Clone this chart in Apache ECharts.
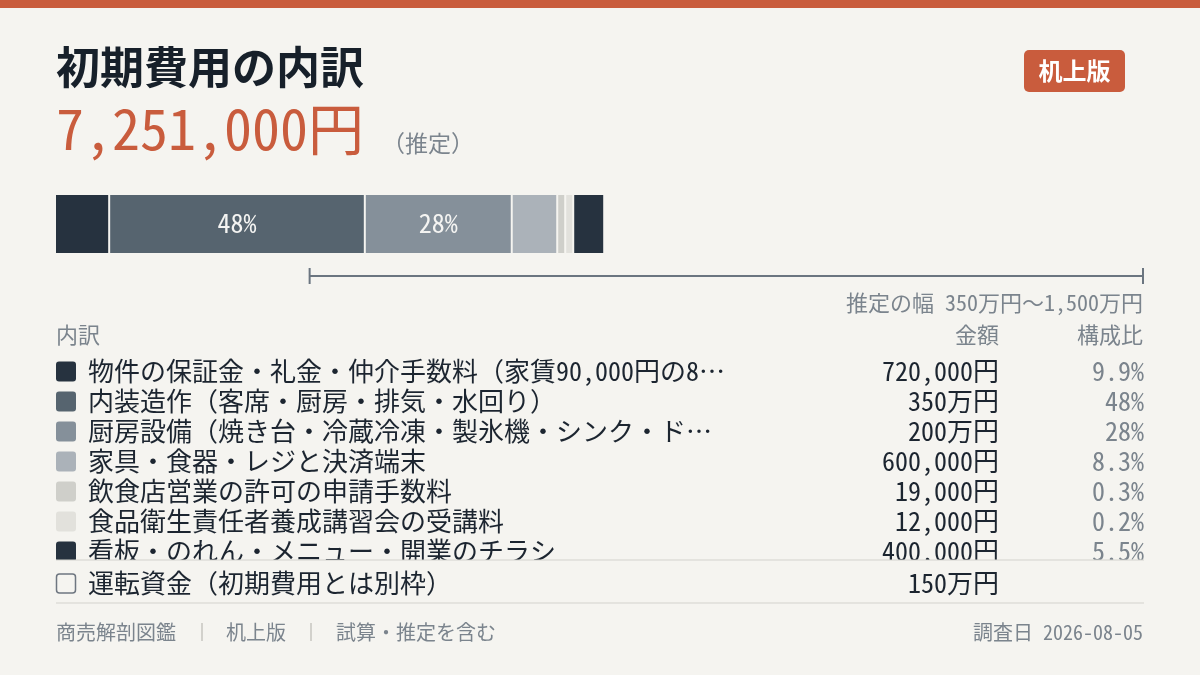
<!DOCTYPE html>
<html><head><meta charset="utf-8">
<script src="https://cdn.jsdelivr.net/npm/echarts@6/dist/echarts.min.js"></script>
<style>html,body{margin:0;padding:0;background:#F5F4F0;}#c{width:1200px;height:675px;}</style>
</head><body><div id="c"></div>
<script>
// ---- data ----
const categories = [
  '物件の保証金・礼金・仲介手数料（家賃90,000円の8…',
  '内装造作（客席・厨房・排気・水回り）',
  '厨房設備（焼き台・冷蔵冷凍・製氷機・シンク・ド…',
  '家具・食器・レジと決済端末',
  '飲食店営業の許可の申請手数料',
  '食品衛生責任者養成講習会の受講料',
  '看板・のれん・メニュー・開業のチラシ'
];
const values = [720000, 3500000, 2000000, 600000, 19000, 12000, 400000];
const extraLabel = '運転資金（初期費用とは別枠）';
const extraValue = 1500000;
const rangeMin = 3500000;
const rangeMax = 15000000;
const axisMax = 15000000;
const titleText = '初期費用の内訳';
const badgeText = '机上版';
const footerItems = ['商売解剖図鑑', '机上版', '試算・推定を含む'];
const surveyDate = '2026-08-05';

// ---- style ----
const palette = ['#26323F', '#56646F', '#85909A', '#ABB2B9', '#CFCFCA', '#E2E1DC', '#26323F'];
const FONT = "'Noto Sans Mono CJK JP','Noto Sans CJK JP','Noto Sans',sans-serif";
const BG = '#F5F4F0', ACCENT = '#C95C3D', DARK = '#1C2530', GRAY = '#7B848D', LINE = '#D3D2CD';

const total = values.reduce((a, b) => a + b, 0);
const fmtYen = v => v >= 1000000 ? (v / 10000).toLocaleString('en-US') + '万円' : v.toLocaleString('en-US') + '円';
const fmtMan = v => (v / 10000).toLocaleString('en-US') + '万円';
const fmtPct = v => { const p = v / total * 100; return p >= 10 ? Math.round(p) + '%' : p.toFixed(1) + '%'; };

function txt(text, x, y, size, fill, align, weight, z) {
  return { type: 'text', z: z || 10, style: { text: text, x: x, y: y, fill: fill, fontSize: size, fontFamily: FONT,
    fontWeight: weight || 'normal', align: align || 'left', textAlign: align || 'left', verticalAlign: 'middle', textVerticalAlign: 'middle' } };
}

const elements = [];
elements.push({ type: 'rect', z: 1, shape: { x: 0, y: 0, width: 1200, height: 8 }, style: { fill: ACCENT } });
elements.push(txt(titleText, 56, 67, 44, '#17202A', 'left', 'bold'));
elements.push(txt(total.toLocaleString('en-US') + '円', 56, 129, 56, ACCENT, 'left', 'normal'));
elements.push(txt('（推定）', 382, 143, 23, GRAY, 'left'));
elements.push({ type: 'rect', z: 5, shape: { x: 1024, y: 50, width: 101, height: 42, r: 5 }, style: { fill: ACCENT } });
elements.push(txt(badgeText, 1074.5, 71, 24, '#FFFFFF', 'center', 'bold', 11));
elements.push(txt('推定の幅 ' + fmtMan(rangeMin) + '〜' + fmtMan(rangeMax), 1143, 303, 22, GRAY, 'right'));
elements.push(txt('内訳', 56, 335, 22, GRAY, 'left'));
elements.push(txt('金額', 999, 335, 22, GRAY, 'right'));
elements.push(txt('構成比', 1143, 335, 22, GRAY, 'right'));

categories.forEach((name, i) => {
  const cy = 371.5 + 30 * i;
  elements.push({ type: 'rect', z: 5, shape: { x: 56, y: cy - 10, width: 20, height: 20, r: 3 }, style: { fill: palette[i] } });
  elements.push(txt(name, 88, cy, 26, DARK, 'left'));
  elements.push(txt(fmtYen(values[i]), 999, cy, 26, DARK, 'right'));
  elements.push(txt(fmtPct(values[i]), 1144, cy, 26, GRAY, 'right'));
});
// clip cover for overflowing last row
elements.push({ type: 'rect', z: 20, shape: { x: 40, y: 560, width: 1120, height: 8 }, style: { fill: BG } });
elements.push({ type: 'line', z: 21, shape: { x1: 56, y1: 560, x2: 1144, y2: 560 }, style: { stroke: LINE, lineWidth: 1 } });
const ey = 583.5;
elements.push({ type: 'rect', z: 5, shape: { x: 56.5, y: ey - 9.5, width: 19, height: 19, r: 3 }, style: { fill: BG, stroke: '#6E7680', lineWidth: 1.5 } });
elements.push(txt(extraLabel, 88, ey, 26, DARK, 'left'));
elements.push(txt(fmtYen(extraValue), 999, ey, 26, DARK, 'right'));
elements.push({ type: 'line', z: 21, shape: { x1: 56, y1: 603, x2: 1144, y2: 603 }, style: { stroke: LINE, lineWidth: 1 } });

// footer
const fx = [56, 226, 336];
footerItems.forEach((t, i) => elements.push(txt(t, fx[i], 632, 20, GRAY, 'left')));
[202, 311].forEach(x => elements.push({ type: 'line', z: 10, shape: { x1: x, y1: 623, x2: x, y2: 641 }, style: { stroke: '#C6C6C1', lineWidth: 1.5 } }));
elements.push(txt('調査日 ' + surveyDate, 1143, 632, 20, GRAY, 'right'));

// ---- series renderers ----
function layoutSegments(api) {
  const x0 = api.coord([0, 0])[0];
  let x = x0; const out = [];
  values.forEach(v => {
    const w = Math.max(6, api.coord([v, 0])[0] - x0);
    out.push([x, w]); x += w + 2;
  });
  return out;
}
function renderBar(params, api) {
  const i = params.dataIndex;
  const seg = layoutSegments(api)[i];
  const children = [{ type: 'rect', shape: { x: seg[0], y: 195, width: seg[1], height: 58 }, style: { fill: palette[i] } }];
  if (seg[1] > 80) {
    children.push({ type: 'text', style: { text: fmtPct(values[i]), x: seg[0] + seg[1] / 2, y: 223, fill: '#F4F4F2',
      fontSize: 26, fontFamily: FONT, align: 'center', textAlign: 'center', verticalAlign: 'middle', textVerticalAlign: 'middle' } });
  }
  return { type: 'group', children: children };
}
function renderRange(params, api) {
  const a = api.coord([api.value(0), 0])[0];
  const b = api.coord([api.value(1), 0])[0];
  const st = { stroke: '#6B7580', lineWidth: 2 };
  return { type: 'group', children: [
    { type: 'line', shape: { x1: a, y1: 276, x2: b, y2: 276 }, style: st },
    { type: 'line', shape: { x1: a, y1: 268, x2: a, y2: 284 }, style: st },
    { type: 'line', shape: { x1: b, y1: 268, x2: b, y2: 284 }, style: st }
  ] };
}

const chart = echarts.init(document.getElementById('c'), null, { renderer: 'canvas' });
chart.setOption({
  backgroundColor: BG,
  animation: false,
  grid: { left: 56, right: 57, top: 190, height: 100 },
  xAxis: { type: 'value', min: 0, max: axisMax, show: false },
  yAxis: { type: 'value', min: 0, max: 1, show: false },
  series: [
    { type: 'custom', renderItem: renderBar, data: values.map((v, i) => [v, i]), encode: { x: 0 }, silent: true },
    { type: 'custom', renderItem: renderRange, data: [[rangeMin, rangeMax]], encode: { x: [0, 1] }, silent: true }
  ],
  graphic: { elements: elements }
});
</script></body></html>
